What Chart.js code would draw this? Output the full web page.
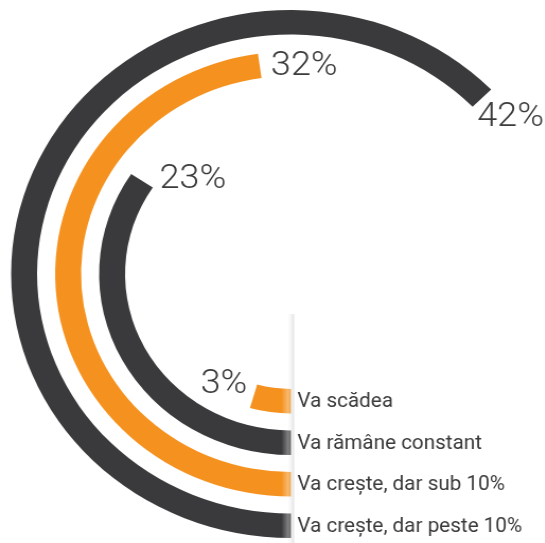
<!DOCTYPE html>
<html lang="ro">
<head>
<meta charset="utf-8">
<title>Evolutie preturi</title>
<script src="https://cdn.jsdelivr.net/npm/chart.js@4.4.1/dist/chart.umd.min.js"></script>
<style>
  html, body { margin: 0; padding: 0; background: #ffffff; }
  #cadru { width: 545px; height: 543px; overflow: hidden; position: relative; }
  /* graficul original e putin lățit pe orizontală */
  #intins { width: 545px; height: 543px; transform: scaleX(1.06); transform-origin: 0 0; }
</style>
</head>
<body>
<div id="cadru">
  <div id="intins">
    <canvas id="grafic" width="545" height="543"></canvas>
  </div>
</div>

<script>
// Datele graficului (de la inelul exterior spre interior)
const categorii = ['Va crește, dar peste 10%', 'Va crește, dar sub 10%', 'Va rămâne constant', 'Va scădea'];
const procente = [42, 32, 23, 3];
const SCALA_MAX = 67; // un cerc complet = 67%

// stil
const culori = ['#3a393b', '#f5921f', '#3a393b', '#f5921f'];
const deplasari = [[27, 19], [42, 1], [48, -1], [-28, -12]]; // pozitia procentului fata de capatul arcului

// construim inelele, cu cate un inel transparent intre ele ca spatiu
const seturi = [];
const inele = [];
categorii.forEach((cat, i) => {
  inele.push(seturi.length);
  seturi.push({
    label: cat,
    data: [procente[i], SCALA_MAX - procente[i]],
    backgroundColor: [culori[i], 'rgba(0,0,0,0)'],
    borderWidth: 0,
    weight: 24.5
  });
  if (i < categorii.length - 1) {
    seturi.push({ data: [1], backgroundColor: ['rgba(0,0,0,0)'], borderWidth: 0, weight: 17 });
  }
});

const pluginEtichete = {
  id: 'etichete',
  afterDatasetsDraw(chart) {
    const ctx = chart.ctx;
    ctx.save();

    // umbra verticala unde incep arcele
    const a0 = chart.getDatasetMeta(inele[0]).data[0];
    const cx = a0.x, cy = a0.y;
    const grad = ctx.createLinearGradient(cx - 9, 0, cx + 3, 0);
    grad.addColorStop(0, 'rgba(255,255,255,0)');
    grad.addColorStop(0.5, 'rgba(255,255,255,0.35)');
    grad.addColorStop(0.8, 'rgba(210,210,210,0.3)');
    grad.addColorStop(1, 'rgba(170,170,170,0.35)');
    ctx.fillStyle = grad;
    ctx.fillRect(cx - 9, cy + 40, 12, chart.height - cy - 40);

    inele.forEach((idx, i) => {
      const arc = chart.getDatasetMeta(idx).data[0];
      const p = arc.getProps(['x', 'y', 'endAngle', 'innerRadius', 'outerRadius'], true);
      const rm = (p.innerRadius + p.outerRadius) / 2;

      // procentul la capatul arcului
      const ex = p.x + Math.cos(p.endAngle) * rm;
      const ey = p.y + Math.sin(p.endAngle) * rm;
      ctx.fillStyle = '#3a3a3a';
      ctx.font = '300 34px Roboto';
      ctx.textAlign = 'center';
      ctx.textBaseline = 'middle';
      ctx.fillText(procente[i] + '%', ex + deplasari[i][0], ey + deplasari[i][1]);

      // categoria langa inceputul arcului
      ctx.font = '19.5px Roboto';
      ctx.textAlign = 'left';
      ctx.fillText(categorii[i], p.x + 6, p.y + rm + 1);
    });
    ctx.restore();
  }
};

new Chart(document.getElementById('grafic'), {
  type: 'doughnut',
  data: {
    labels: ['valoare', 'rest'],
    datasets: seturi
  },
  options: {
    responsive: false,
    animation: false,
    events: [],
    rotation: 180,
    circumference: 360,
    cutout: 115,
    layout: {
      padding: { left: 10.5, right: 6.5, top: 10, bottom: 5 }
    },
    plugins: {
      legend: { display: false },
      tooltip: { enabled: false }
    }
  },
  plugins: [pluginEtichete]
});
</script>
</body>
</html>
